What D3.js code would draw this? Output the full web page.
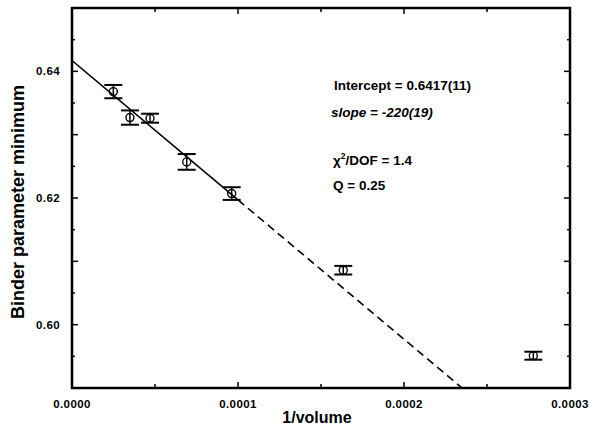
<!DOCTYPE html>
<html>
<head>
<meta charset="utf-8">
<script src="https://cdn.jsdelivr.net/npm/d3@7"></script>
<style>
  html, body { margin: 0; padding: 0; background: #fff; }
  svg text { font-family: "Liberation Sans", Arial, Helvetica, sans-serif; fill: #000; }
</style>
</head>
<body>
<svg id="chart" width="590" height="431"></svg>
<script>
// Binder parameter minimum versus inverse lattice volume
const invVolume = [2.49e-5, 3.49e-5, 4.70e-5, 6.91e-5, 9.62e-5, 1.634e-4, 2.779e-4];
const binderMin = [0.6368, 0.6327, 0.6326, 0.6257, 0.6207, 0.6086, 0.5951];
const binderErr = [0.00105, 0.00113, 0.00071, 0.00124, 0.00100, 0.00068, 0.00063];

// Linear fit results
const fitIntercept = 0.6417;
const fitSlope = -220;
const fitRangeEnd = 1.0e-4;   // fitted region (solid); extrapolation is dashed

const xTickValues = [0, 1e-4, 2e-4, 3e-4];
const xTickLabels = ["0.0000", "0.0001", "0.0002", "0.0003"];
const yTickValues = [0.60, 0.62, 0.64];
const yTickLabels = ["0.60", "0.62", "0.64"];

const fitLines = [
  { text: "Intercept = 0.6417(11)", italic: false },
  { text: "slope = -220(19)", italic: true }
];

const svg = d3.select("#chart");
const margin = { left: 72, right: 20, top: 8, bottom: 43 };
const W = 590, H = 431;

const x = d3.scaleLinear().domain([0, 3e-4]).range([margin.left, W - margin.right]);
const y = d3.scaleLinear().domain([0.59, 0.65]).range([H - margin.bottom, margin.top]);

const plot = svg.append("g");

// clip region for the fit line
svg.append("defs").append("clipPath").attr("id", "plotClip")
  .append("rect")
  .attr("x", x(0)).attr("y", y(0.65))
  .attr("width", x(3e-4) - x(0)).attr("height", y(0.59) - y(0.65));

// ticks: minor every 0.00005 / 0.005, pointing inward on all four sides
const xMinor = d3.range(0, 3e-4 + 1e-9, 5e-5);
const yMinor = d3.range(0.59, 0.65 + 1e-9, 0.005);

function isMajorX(v) { return xTickValues.some(t => Math.abs(t - v) < 1e-9); }
function isMajorY(v) { return Math.abs(Math.round(v * 100) - v * 100) < 1e-6; }

const tickG = plot.append("g").attr("stroke", "#000").attr("stroke-width", 1.5);
xMinor.forEach(v => {
  const len = isMajorX(v) ? 6 : 4;
  tickG.append("line").attr("x1", x(v)).attr("x2", x(v))
    .attr("y1", y(0.59)).attr("y2", y(0.59) - len);
  tickG.append("line").attr("x1", x(v)).attr("x2", x(v))
    .attr("y1", y(0.65)).attr("y2", y(0.65) + len);
});
yMinor.forEach(v => {
  const len = isMajorY(v) ? 6 : 3;
  tickG.append("line").attr("y1", y(v)).attr("y2", y(v))
    .attr("x1", x(0)).attr("x2", x(0) + len);
  tickG.append("line").attr("y1", y(v)).attr("y2", y(v))
    .attr("x1", x(3e-4)).attr("x2", x(3e-4) - len);
});

// frame
plot.append("rect")
  .attr("x", x(0)).attr("y", y(0.65))
  .attr("width", x(3e-4) - x(0)).attr("height", y(0.59) - y(0.65))
  .attr("fill", "none").attr("stroke", "#000").attr("stroke-width", 2.5);

// tick labels
plot.append("g").selectAll("text").data(xTickValues).join("text")
  .attr("x", d => x(d)).attr("y", y(0.59) + 20)
  .attr("text-anchor", "middle")
  .attr("font-size", 11.5).attr("font-weight", "bold").attr("letter-spacing", 0.4)
  .text((d, i) => xTickLabels[i]);

plot.append("g").selectAll("text").data(yTickValues).join("text")
  .attr("x", x(0) - 12).attr("y", d => y(d) + 4)
  .attr("text-anchor", "end")
  .attr("font-size", 11.5).attr("font-weight", "bold").attr("letter-spacing", 0.4)
  .text((d, i) => yTickLabels[i]);

// axis titles
svg.append("text")
  .attr("x", (x(0) + x(3e-4)) / 2 - 4).attr("y", 423)
  .attr("text-anchor", "middle")
  .attr("font-size", 16).attr("font-weight", "bold")
  .text("1/volume");

svg.append("text")
  .attr("transform", `translate(24, ${(y(0.59) + y(0.65)) / 2 + 4}) rotate(-90)`)
  .attr("text-anchor", "middle")
  .attr("font-size", 18).attr("font-weight", "bold")
  .text("Binder parameter minimum");

// fit line: solid over fitted range, dashed extrapolation
const fitFn = v => fitIntercept + fitSlope * v;
const lineGen = d3.line().x(d => x(d)).y(d => y(fitFn(d)));
const fitG = plot.append("g").attr("clip-path", "url(#plotClip)")
  .attr("fill", "none").attr("stroke", "#000").attr("stroke-width", 1.6);
fitG.append("path").attr("d", lineGen([0, fitRangeEnd]));
fitG.append("path").attr("d", lineGen([fitRangeEnd, 3e-4]))
  .attr("stroke-dasharray", "8,5");

// data points with error bars
const pts = invVolume.map((v, i) => ({ x: v, y: binderMin[i], e: binderErr[i] }));
const capHalf = 9;
const ptG = plot.append("g").selectAll("g").data(pts).join("g")
  .attr("stroke", "#000").attr("fill", "none");
ptG.append("line")
  .attr("x1", d => x(d.x)).attr("x2", d => x(d.x))
  .attr("y1", d => y(d.y - d.e)).attr("y2", d => y(d.y + d.e))
  .attr("stroke-width", 1.5);
ptG.append("line")
  .attr("x1", d => x(d.x) - capHalf).attr("x2", d => x(d.x) + capHalf)
  .attr("y1", d => y(d.y + d.e)).attr("y2", d => y(d.y + d.e))
  .attr("stroke-width", 2);
ptG.append("line")
  .attr("x1", d => x(d.x) - capHalf).attr("x2", d => x(d.x) + capHalf)
  .attr("y1", d => y(d.y - d.e)).attr("y2", d => y(d.y - d.e))
  .attr("stroke-width", 2);
ptG.append("circle")
  .attr("cx", d => x(d.x)).attr("cy", d => y(d.y))
  .attr("r", 4).attr("stroke-width", 1.4);

// fit annotations
const ann = svg.append("g").attr("font-size", 13.5).attr("font-weight", "bold");
ann.append("text").attr("x", 334).attr("y", 90).text(fitLines[0].text);
ann.append("text").attr("x", 331).attr("y", 117).attr("font-style", "italic").text(fitLines[1].text);

const chi = ann.append("text").attr("x", 333).attr("y", 165);
chi.append("tspan").text("\u03c7");
chi.append("tspan").attr("dy", -6).attr("font-size", 8.5).text("2");
chi.append("tspan").attr("dy", 6).text("/DOF = 1.4");
ann.append("text").attr("x", 333).attr("y", 190).text("Q = 0.25");
</script>
</body>
</html>
